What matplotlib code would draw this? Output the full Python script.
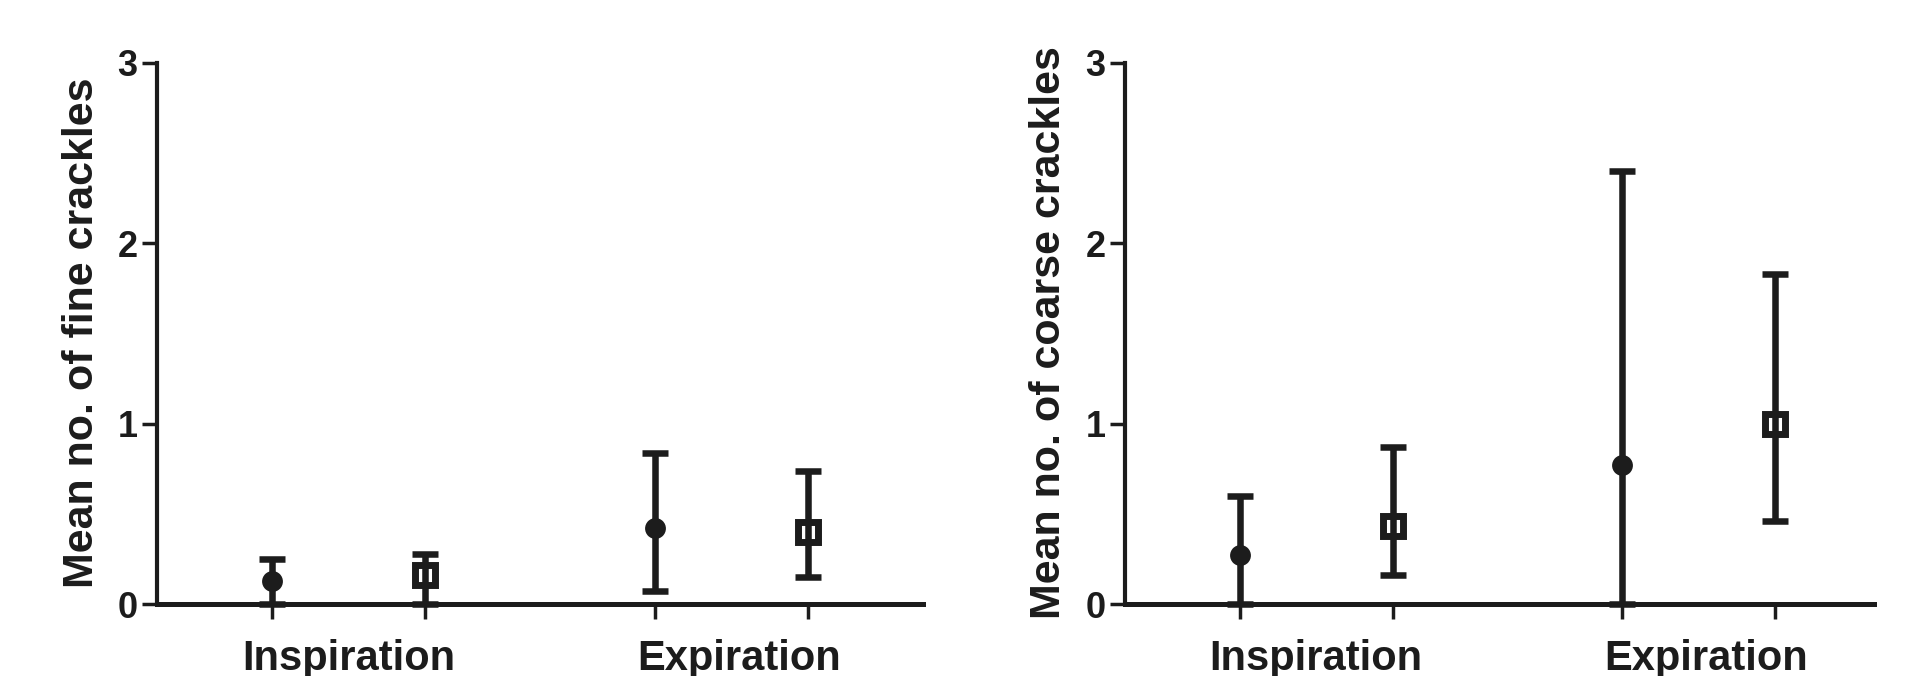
import matplotlib
matplotlib.use("Agg")
import matplotlib.pyplot as plt
import numpy as np

plt.rcParams["font.family"] = ["Liberation Sans", "DejaVu Sans"]
plt.rcParams["font.weight"] = "bold"

# x positions of the four bars (two groups of two)
positions = [1.0, 2.0, 3.5, 4.5]
groups = ["Inspiration", "Expiration"]
group_centers = [1.5, 4.05]

# fine crackles: circle / square per phase
fine_mean = [0.13, 0.16, 0.42, 0.40]
fine_low = [0.0, 0.0, 0.07, 0.15]
fine_high = [0.25, 0.28, 0.84, 0.74]

# coarse crackles
coarse_mean = [0.27, 0.43, 0.77, 1.00]
coarse_low = [0.0, 0.16, 0.0, 0.46]
coarse_high = [0.60, 0.87, 2.40, 1.83]

INK = "#1c1c1c"

fig = plt.figure(figsize=(19.21, 6.76), dpi=100)
W, H = 1921, 676


def panel(rect, means, lows, highs, xmax, ylabel, label_x):
    ax = fig.add_axes(rect)
    m = np.array(means)
    err = [m - np.array(lows), np.array(highs) - m]
    ax.errorbar(positions, m, yerr=err, fmt="none", ecolor=INK,
                elinewidth=4.7, capsize=9.7, capthick=4.7, clip_on=False, zorder=3)
    # filled circles at the first bar of each group, open squares at the second
    ax.plot(positions[0::2], m[0::2], "o", color=INK, markersize=15,
            markeredgewidth=0, clip_on=False, zorder=4)
    ax.plot(positions[1::2], m[1::2], "s", color=INK, markersize=15,
            markerfacecolor="none", markeredgewidth=5, clip_on=False, zorder=4)
    ax.set_xlim(0.25, xmax)
    ax.set_ylim(0, 3)
    ax.set_yticks([0, 1, 2, 3])
    ax.set_xticks(positions)
    ax.set_xticklabels([])
    for s in ("top", "right"):
        ax.spines[s].set_visible(False)
    ax.spines["left"].set_linewidth(3)
    ax.spines["bottom"].set_linewidth(3.6)
    ax.spines["left"].set_color(INK)
    ax.spines["bottom"].set_color(INK)
    ax.tick_params(axis="both", direction="out", length=11, width=2.5, color=INK)
    ax.tick_params(axis="y", labelsize=26, pad=3, labelcolor=INK)
    for lab in ax.get_yticklabels():
        lab.set_fontweight("bold")
    for g, c in zip(groups, group_centers):
        ax.text(c, -0.122, g, transform=ax.get_xaxis_transform(), ha="center",
                va="baseline", fontsize=30, fontweight="bold", color=INK)
    fig.text(label_x / W, (H - 333) / H, ylabel, rotation=90, rotation_mode="anchor",
             ha="center", va="baseline", fontsize=31, fontweight="bold", color=INK)
    return ax


bottom = (H - 604) / H
height = (604 - 63) / H
panel([157 / W, bottom, (923 - 157) / W, height], fine_mean, fine_low, fine_high,
      5.25, "Mean no. of fine crackles", 93)
panel([1125 / W, bottom, (1874 - 1125) / W, height], coarse_mean, coarse_low, coarse_high,
      5.15, "Mean no. of coarse crackles", 1060)

fig.savefig("out.png", dpi=100)
